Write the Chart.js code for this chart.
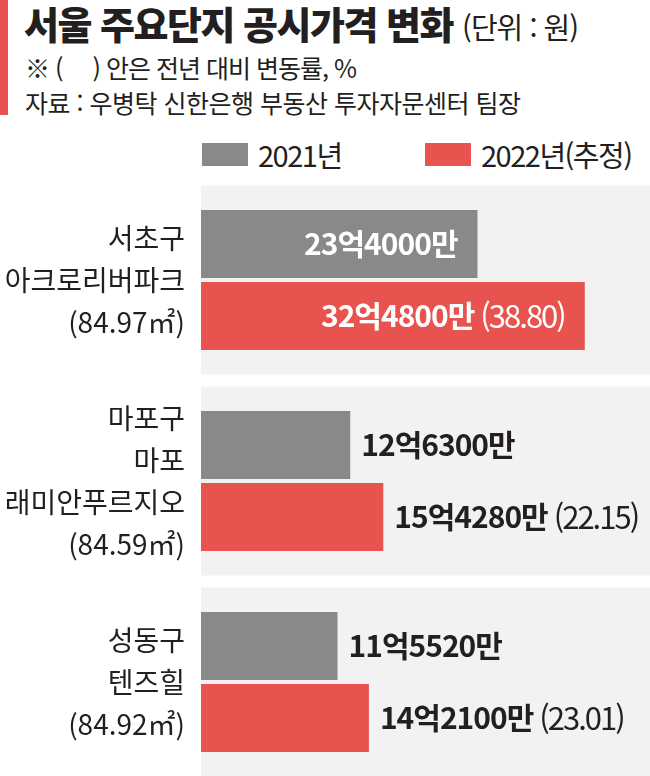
<!DOCTYPE html>
<html lang="ko">
<head>
<meta charset="utf-8">
<script src="https://cdn.jsdelivr.net/npm/chart.js@4.4.1/dist/chart.umd.min.js"></script>
<style>
  html, body { margin: 0; padding: 0; background: #fff; overflow: hidden; }
  #wrap { position: relative; width: 650px; height: 776px; overflow: hidden;
          font-family: 'Noto Sans CJK KR', sans-serif; color: #231f20; }
  #redbar { position: absolute; left: 0; top: 0; width: 8px; height: 115px; background: #e8534f; }
  #title { position: absolute; left: 24px; top: 0; font-size: 38px; font-weight: 900;
           letter-spacing: -1.5px; line-height: 45px; white-space: pre; }
  #title span { font-size: 29px; font-weight: 400; letter-spacing: -1px; }
  .sub { position: absolute; left: 25px; font-size: 25px; letter-spacing: -1px;
         line-height: 35px; white-space: pre; }
  #legend { position: absolute; left: 202px; top: 136px; display: flex; }
  .item { display: flex; align-items: center; width: 223px; height: 36px;
          font-size: 29px; letter-spacing: -1.5px; white-space: pre; }
  .box { width: 46px; height: 23px; margin-right: 10px; }
  canvas { position: absolute; left: 0; top: 0; }
</style>
</head>
<body>
<div id="wrap">
  <div id="redbar"></div>
  <div id="title">서울 주요단지 공시가격 변화 <span>(단위 : 원)</span></div>
  <div class="sub" style="top:50px">※ (　 ) 안은 전년 대비 변동률, %</div>
  <div class="sub" style="top:85px; letter-spacing:-0.5px">자료 : 우병탁 신한은행 부동산 투자자문센터 팀장</div>
  <div id="legend"></div>
  <canvas id="myChart" width="650" height="790"></canvas>
</div>
<script>
// 단지명 (여러 줄)
const categories = [
  ['서초구', '아크로리버파크', '(84.97㎡)'],
  ['마포구', '마포', '래미안푸르지오', '(84.59㎡)'],
  ['성동구', '텐즈힐', '(84.92㎡)']
];
const seriesNames = ['2021년', '2022년(추정)'];
// 공시가격, 만원 단위
const price2021 = [234000, 126300, 115520];
const price2022 = [324800, 154280, 142100];
// 전년 대비 변동률, %
const changeRate = [38.80, 22.15, 23.01];
const seriesColors = ['#898989', '#e8534f'];

Chart.defaults.font.family = "'Noto Sans CJK KR', sans-serif";

// legend
seriesNames.forEach((name, i) => {
  const item = document.createElement('div');
  item.className = 'item';
  const box = document.createElement('span');
  box.className = 'box';
  box.style.background = seriesColors[i];
  item.appendChild(box);
  item.appendChild(document.createTextNode(name));
  document.getElementById('legend').appendChild(item);
});

function fmtPrice(man) {
  const eok = Math.floor(man / 10000);
  const rest = man % 10000;
  return eok + '억' + (rest ? String(rest).padStart(4, '0') : '') + '만';
}

// gray panel behind each group
const panelPlugin = {
  id: 'panels',
  beforeDatasetsDraw(chart) {
    const { ctx, chartArea, scales: { y } } = chart;
    const half = (y.getPixelForValue(1) - y.getPixelForValue(0)) / 2 - 6;
    ctx.save();
    ctx.fillStyle = '#f2f2f2';
    categories.forEach((c, i) => {
      const cy = y.getPixelForValue(i);
      ctx.fillRect(chartArea.left, cy - half, chartArea.right - chartArea.left, half * 2);
    });
    ctx.restore();
  }
};

// value labels
const valuePlugin = {
  id: 'values',
  afterDatasetsDraw(chart) {
    const ctx = chart.ctx;
    chart.data.datasets.forEach((ds, di) => {
      chart.getDatasetMeta(di).data.forEach((bar, i) => {
        const v = ds.data[i];
        const main = fmtPrice(v);
        const extra = di === 1 ? '(' + changeRate[i].toFixed(2) + ')' : '';
        ctx.save();
        ctx.textBaseline = 'middle';
        ctx.textAlign = 'left';
        ctx.font = "700 30px 'Noto Sans CJK KR'";
        ctx.letterSpacing = '-1px';
        const w1 = ctx.measureText(main).width;
        ctx.font = "400 31px 'Noto Sans CJK KR'";
        ctx.letterSpacing = '-2px';
        const w2 = extra ? ctx.measureText(extra).width + 6 : 0;
        const inside = v > 200000;
        const x0 = inside ? bar.x - 20 - w1 - w2 : bar.x + 11;
        ctx.fillStyle = inside ? '#ffffff' : '#231f20';
        ctx.font = "700 30px 'Noto Sans CJK KR'";
        ctx.letterSpacing = '-1px';
        ctx.fillText(main, x0, bar.y);
        if (extra) {
          ctx.font = "400 31px 'Noto Sans CJK KR'";
          ctx.letterSpacing = '-2px';
          ctx.fillText(extra, x0 + w1 + 6, bar.y);
        }
        ctx.restore();
      });
    });
  }
};

new Chart(document.getElementById('myChart'), {
  type: 'bar',
  data: {
    labels: categories,
    datasets: [
      { label: seriesNames[0], data: price2021, backgroundColor: seriesColors[0] },
      { label: seriesNames[1], data: price2022, backgroundColor: seriesColors[1] }
    ]
  },
  options: {
    indexAxis: 'y',
    responsive: false,
    animation: false,
    devicePixelRatio: 1,
    layout: { padding: { left: 0, right: 0, top: 179.5, bottom: 7.5 } },
    datasets: { bar: { categoryPercentage: 0.7164, barPercentage: 0.944, borderWidth: 0 } },
    plugins: { legend: { display: false }, tooltip: { enabled: false } },
    scales: {
      x: { display: false, min: 0, max: 380000 },
      y: {
        grid: { display: false, drawTicks: false },
        border: { display: false },
        afterFit(scale) {
          scale.width = 201;
          scale.paddingTop = 0;
          scale.paddingBottom = 0;
        },
        ticks: {
          padding: 16,
          color: '#231f20',
          font: { size: 28, lineHeight: '42px' }
        }
      }
    }
  },
  plugins: [panelPlugin, valuePlugin]
});
</script>
</body>
</html>
